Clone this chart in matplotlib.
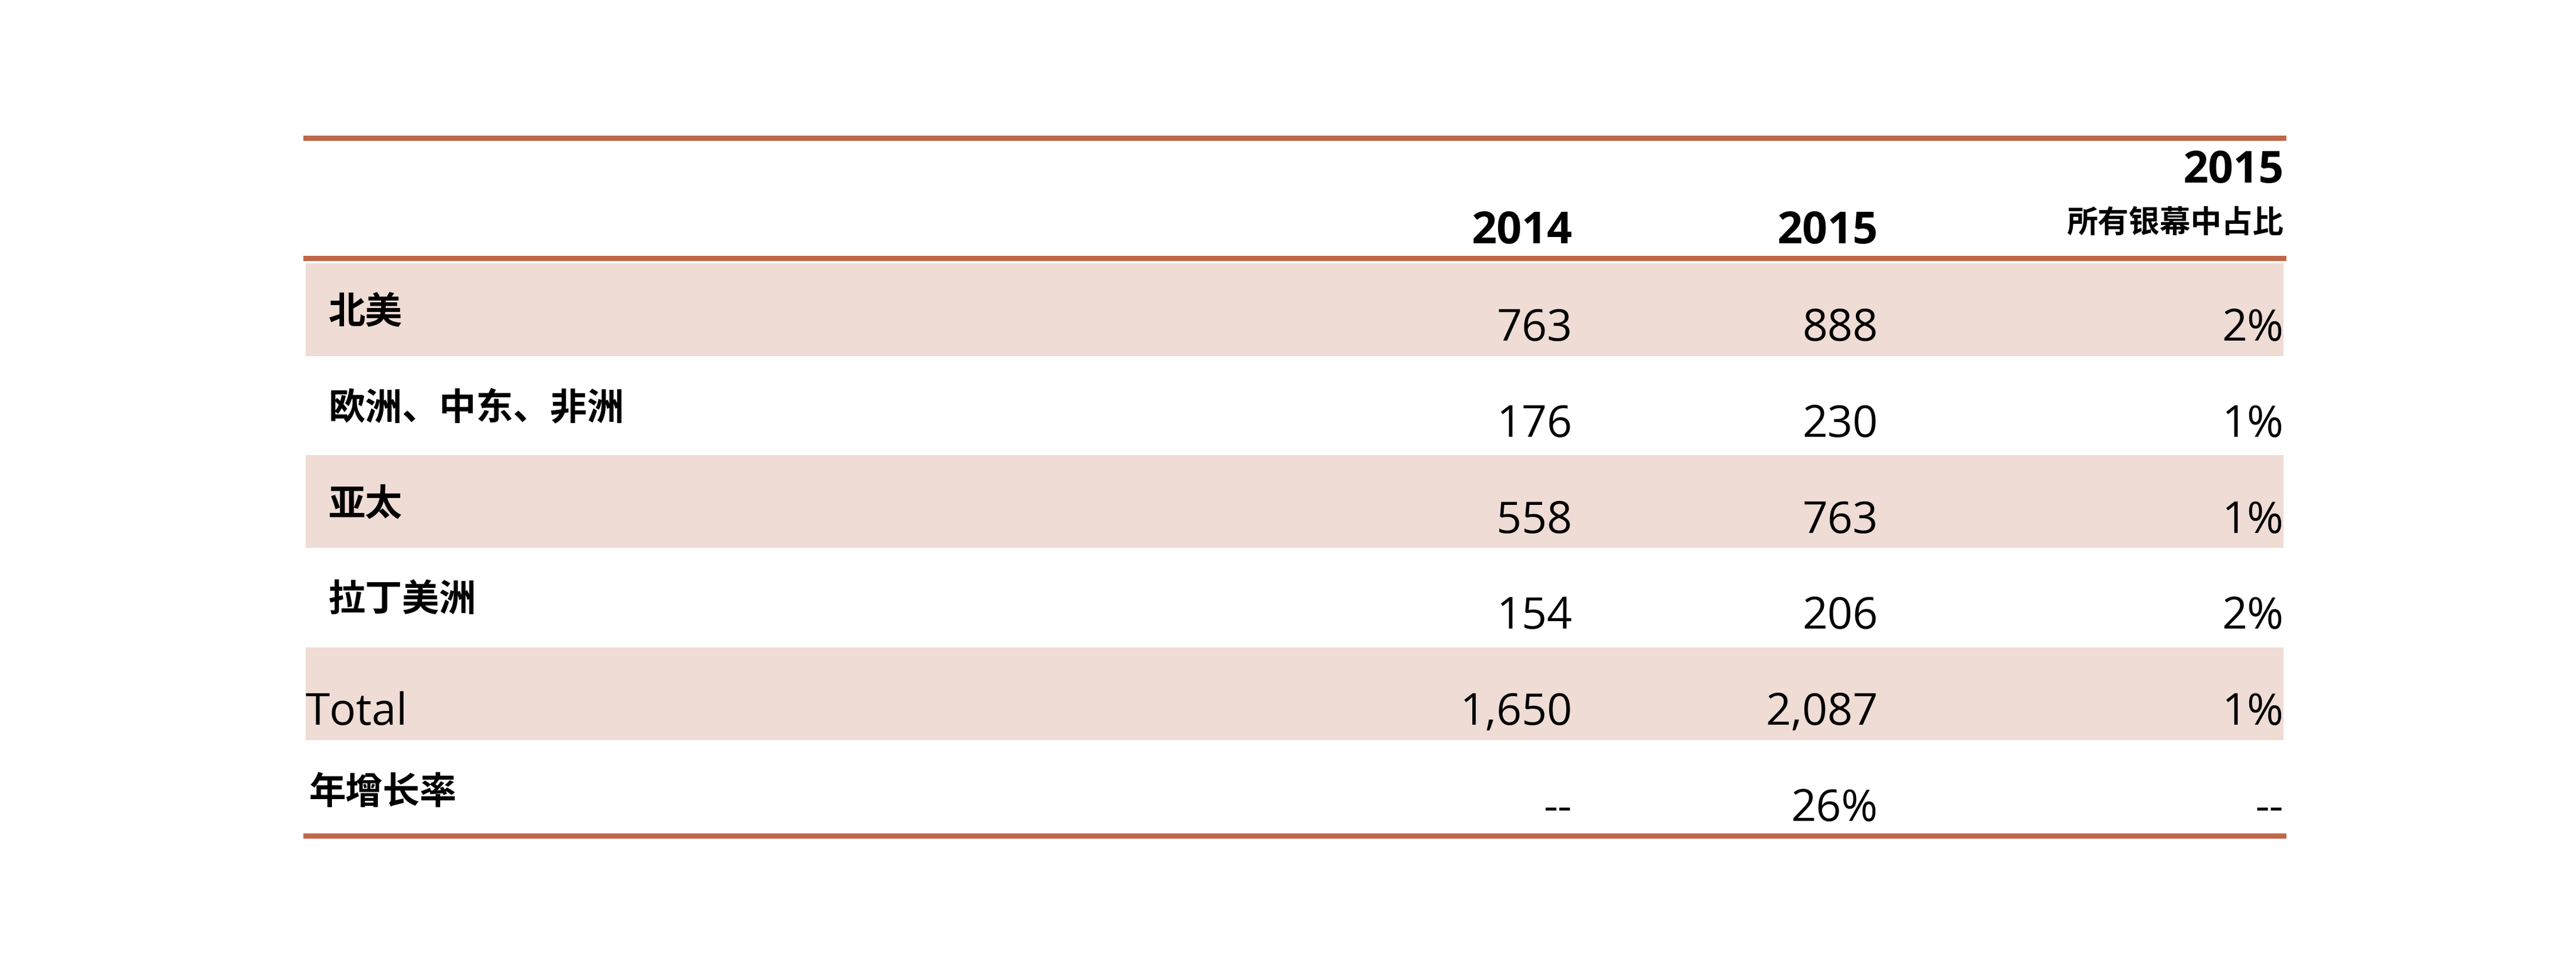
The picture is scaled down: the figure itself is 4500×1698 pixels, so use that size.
import matplotlib.pyplot as plt
from matplotlib import font_manager
from matplotlib.patches import Rectangle

# pick an installed sans CJK font
cjk = sorted(set(f.name for f in font_manager.fontManager.ttflist if 'CJK' in f.name))
sans = [n for n in cjk if 'Sans' in n and 'SC' in n] or [n for n in cjk if 'Sans' in n] or cjk
cjk_name = sans[0] if sans else 'DejaVu Sans'
plt.rcParams['font.family'] = ['Open Sans', cjk_name]

# table data
regions = ['北美', '欧洲、中东、非洲', '亚太', '拉丁美洲', 'Total', '年增长率']
vals_2014 = ['763', '176', '558', '154', '1,650', '--']
vals_2015 = ['888', '230', '763', '206', '2,087', '26%']
share_2015 = ['2%', '1%', '1%', '2%', '1%', '--']
headers = ['2014', '2015', '2015', '所有银幕中占比']

fig = plt.figure(figsize=(15, 5.66), dpi=300)
ax = fig.add_axes([0, 0, 1, 1])
ax.set_xlim(0, 1568)
ax.set_ylim(591, 0)
ax.axis('off')

left, right = 186, 1390
col_x = [957, 1143, 1390]
row_top = 158
row_h = 58.4
line_c = '#c0674a'
shade = '#eedcd5'

# header
ax.plot([left, right], [84, 84], color=line_c, lw=2.2)
ax.plot([left, right], [157, 157], color=line_c, lw=2.2)
ax.text(col_x[0], 141, headers[0], ha='right', va='center', fontsize=18.5, fontweight='bold')
ax.text(col_x[1], 141, headers[1], ha='right', va='center', fontsize=18.5, fontweight='bold')
ax.text(col_x[2], 104, headers[2], ha='right', va='center', fontsize=18.5, fontweight='bold')
ax.text(col_x[2], 136, headers[3], ha='right', va='center', fontsize=13, fontweight='bold',
        family=cjk_name)

for i, name in enumerate(regions):
    y0 = row_top + i * row_h
    if i % 2 == 0:
        ax.add_patch(Rectangle((left, y0 + 2), right - left, row_h - 2, color=shade, lw=0))
    yn = y0 + row_h * 0.72
    yl = y0 + row_h * 0.55
    if name == 'Total':
        ax.text(left, yn, name, ha='left', va='center', fontsize=18.5)
    else:
        ax.text(left + 14 if i < 4 else left + 2, yl, name, ha='left', va='center',
                fontsize=15.5, fontweight='bold', family=cjk_name)
    for cx, v in zip(col_x, [vals_2014[i], vals_2015[i], share_2015[i]]):
        ax.text(cx, yn, v, ha='right', va='center', fontsize=18.5)

ax.plot([left, right], [508, 508], color=line_c, lw=2.2)

fig.savefig('out.png', dpi=300)
